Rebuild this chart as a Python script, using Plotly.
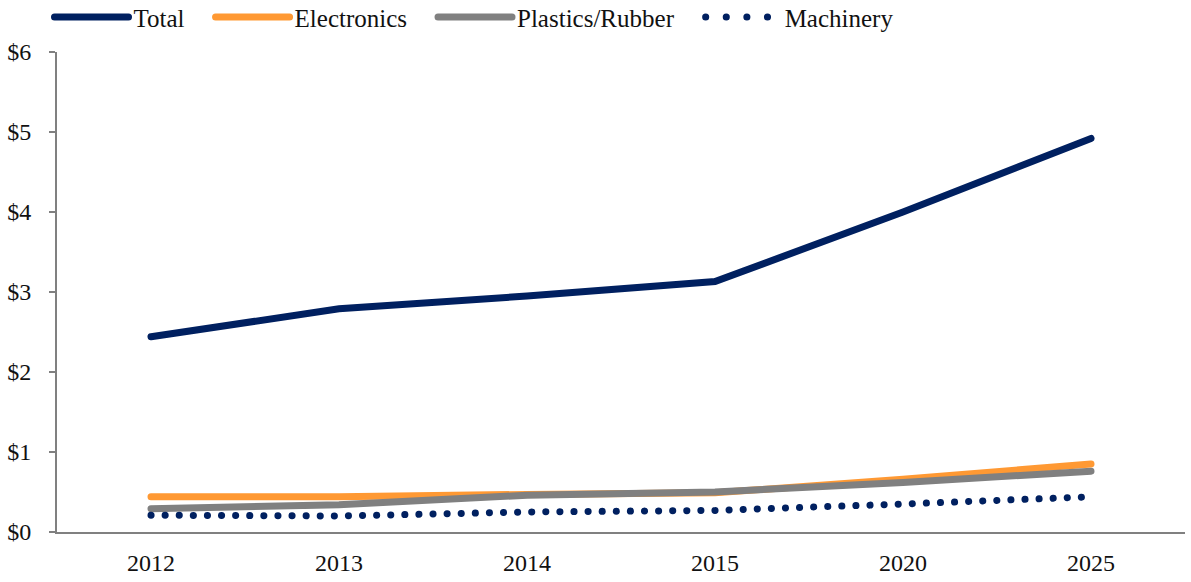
import plotly.graph_objects as go

years = ["2012", "2013", "2014", "2015", "2020", "2025"]
total = [2.44, 2.79, 2.95, 3.13, 4.00, 4.92]
electronics = [0.44, 0.44, 0.47, 0.49, 0.66, 0.85]
plastics = [0.29, 0.34, 0.46, 0.50, 0.62, 0.76]
machinery = [0.21, 0.20, 0.25, 0.27, 0.35, 0.44]
y_ticks = [0, 1, 2, 3, 4, 5, 6]
y_tick_labels = ["$0", "$1", "$2", "$3", "$4", "$5", "$6"]

NAVY = "#002060"
ORANGE = "#FF9933"
GRAY = "#808080"
FONT = "Liberation Serif"
FS = 24

fig = go.Figure()
fig.add_trace(go.Scatter(x=years, y=total, name="Total", mode="lines",
                         line=dict(color=NAVY, width=7)))
fig.add_trace(go.Scatter(x=years, y=electronics, name="Electronics", mode="lines",
                         line=dict(color=ORANGE, width=7)))
fig.add_trace(go.Scatter(x=years, y=plastics, name="Plastics/Rubber", mode="lines",
                         line=dict(color=GRAY, width=7)))
fig.add_trace(go.Scatter(x=years, y=machinery, name="Machinery", mode="lines",
                         line=dict(color=NAVY, width=7, dash="0.1px,14px")))

fig.update_layout(
    width=1191, height=582,
    margin=dict(l=57, r=6, t=52, b=48),
    paper_bgcolor="white", plot_bgcolor="white",
    font=dict(family=FONT, size=FS, color="#111111"),
    showlegend=True,
    legend=dict(orientation="h", x=-0.0035, xanchor="left",
                y=1.0, yanchor="bottom",
                font=dict(family=FONT, size=25, color="#111111"),
                itemwidth=74, tracegroupgap=0, bgcolor="rgba(0,0,0,0)"),
    xaxis=dict(type="category", range=[-0.5, 5.5], showgrid=False, showline=True,
               linecolor=GRAY, linewidth=2, ticks="", zeroline=False,
               ticklabelstandoff=8, tickfont=dict(family=FONT, size=FS)),
    yaxis=dict(range=[0, 6], tickvals=y_ticks, ticktext=y_tick_labels, showgrid=False,
               showline=True, linecolor=GRAY, linewidth=2, ticks="outside",
               ticklen=6, tickcolor=GRAY, tickwidth=2, zeroline=False,
               ticklabelstandoff=13, tickfont=dict(family=FONT, size=FS)),
)

post = """
document.body.style.margin='0';
var gd = document.getElementsByClassName('plotly-graph-div')[0];
function parseT(el){
  var t = el.getAttribute('transform') || '';
  var m = /translate\\(([-\\d.]+)[ ,]*([-\\d.]*)\\)/.exec(t);
  if(!m) return [0,0];
  return [parseFloat(m[1]), m[2] === '' ? 0 : parseFloat(m[2])];
}
function fixUp(){
  document.querySelectorAll('path.js-line, .legendlines path').forEach(function(p){
    p.style.strokeLinecap='round';
  });
  var leg = gd.querySelector('g.legend');
  if(!leg || leg.dataset.moved) return;
  leg.querySelectorAll('[clip-path]').forEach(function(el){ el.removeAttribute('clip-path'); });
  leg.removeAttribute('clip-path');
  var traces = leg.querySelectorAll('g.traces');
  traces.forEach(function(g, i){
    var p = parseT(g);
    g.setAttribute('transform', 'translate(' + (p[0] + i*21) + ',' + p[1] + ')');
  });
  var lines = leg.querySelectorAll('.legendlines path');
  if(lines.length === 4){ lines[3].style.strokeDasharray = '0.1px,20.5px'; }
  var firstLine = lines[0];
  if(firstLine){
    var r = firstLine.getBoundingClientRect();
    var dy = 17 - (r.top + r.height/2);
    var dx = 58 - (r.left + 3.5);
    var p = parseT(leg);
    leg.setAttribute('transform', 'translate(' + (p[0] + dx) + ',' + (p[1] + dy) + ')');
    leg.dataset.moved = '1';
  }
}
fixUp();
gd.on('plotly_afterplot', function(){ var l = gd.querySelector('g.legend'); if(l) delete l.dataset.moved; fixUp(); });
"""
fig.write_html("out.html", post_script=post, config={"displayModeBar": False})
